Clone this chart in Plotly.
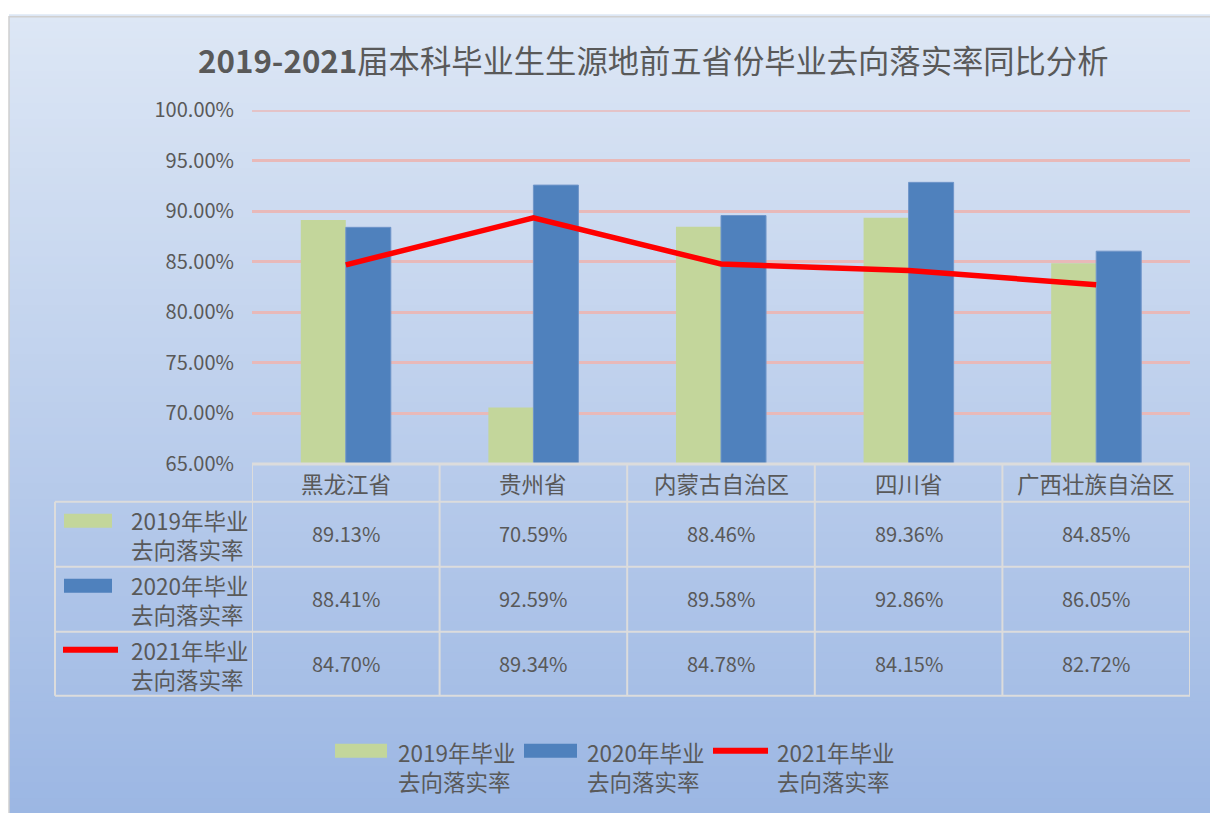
import plotly.graph_objects as go

# ---------------- data ----------------
categories = ["黑龙江省", "贵州省", "内蒙古自治区", "四川省", "广西壮族自治区"]
series_names = ["2019年毕业去向落实率", "2020年毕业去向落实率", "2021年毕业去向落实率"]
rate_2019 = [0.8913, 0.7059, 0.8846, 0.8936, 0.8485]
rate_2020 = [0.8841, 0.9259, 0.8958, 0.9286, 0.8605]
rate_2021 = [0.8470, 0.8934, 0.8478, 0.8415, 0.8272]
y_ticks = [0.65, 0.70, 0.75, 0.80, 0.85, 0.90, 0.95, 1.00]
title_text = "<b>2019-2021</b>届本科毕业生生源地前五省份毕业去向落实率同比分析"

# ---------------- style ----------------
W = 1210
FIG_H = 832
# the photographed page maps page-y to picture-y as  pic = OFF + SC * page
OFF, SC = 14.7, 0.966
FONT = "Noto Sans CJK SC"
TXT = "#595959"
GREEN, BLUE, RED = "#c3d69b", "#4f81bd", "#ff0000"
GRID = "#e8b9b9"
BORDER = "#dcdcdc"


def px(x):
    return x / W


def py(y):
    """picture-y (reference pixels) -> paper fraction"""
    return 1 - ((y - OFF) / SC) / FIG_H


def split_name(name):
    return name[:7], name[7:]


fig = go.Figure()
fig.add_trace(go.Bar(x=categories, y=rate_2019, name=series_names[0],
                     marker=dict(color=GREEN, line=dict(width=0)), showlegend=False))
fig.add_trace(go.Bar(x=categories, y=rate_2020, name=series_names[1],
                     marker=dict(color=BLUE, line=dict(color="#6f95c9", width=1)), showlegend=False))
fig.add_trace(go.Scatter(x=categories, y=rate_2021, name=series_names[2], mode="lines",
                         line=dict(color=RED, width=5.5), showlegend=False))

shapes = []
# gradient background
top_c = (221, 231, 245)
bot_c = (155, 182, 227)
y_start, y_end = 13, 822
n = 100
step = (y_end - y_start) / n
for i in range(n):
    t = (i + 0.5) / n
    c = tuple(round(top_c[k] + (bot_c[k] - top_c[k]) * t) for k in range(3))
    y0 = y_start + i * step
    shapes.append(dict(type="rect", xref="paper", yref="paper", layer="below",
                       x0=px(9), x1=1, y0=py(y0 + step + 0.8), y1=py(y0),
                       fillcolor="rgb(%d,%d,%d)" % c, line=dict(width=0)))
# chart border
shapes.append(dict(type="rect", xref="paper", yref="paper", layer="below",
                   x0=px(9), x1=px(1215), y0=py(830), y1=min(py(13), 1 - 0.8 / FIG_H),
                   line=dict(color="#d0d0d0", width=1.5), fillcolor="rgba(0,0,0,0)"))

ncat = len(categories)
# top gridline (plotly drops the grid line on the range edge)
shapes.append(dict(type="line", xref="x", yref="y", layer="below",
                   x0=-0.5, x1=ncat - 0.5, y0=y_ticks[-1], y1=y_ticks[-1],
                   line=dict(color=GRID, width=3)))

# data table lines
for i in range(ncat + 1):
    shapes.append(dict(type="line", xref="x", yref="paper",
                       x0=i - 0.5, x1=i - 0.5, y0=py(463), y1=py(695),
                       line=dict(color=BORDER, width=2)))
shapes.append(dict(type="line", xref="x", yref="paper",
                   x0=-0.5, x1=ncat - 0.5, y0=py(463), y1=py(463),
                   line=dict(color=BORDER, width=3)))
shapes.append(dict(type="line", xref="paper", yref="paper",
                   x0=px(55), x1=px(55), y0=py(501), y1=py(695),
                   line=dict(color=BORDER, width=2)))
for yy in [501, 566, 631, 695]:
    shapes.append(dict(type="line", xref="paper", yref="paper",
                       x0=px(55), x1=px(1190), y0=py(yy), y1=py(yy),
                       line=dict(color=BORDER, width=2)))

annotations = []


def add_text(text, x, y, size, xanchor="center", xref="paper"):
    annotations.append(dict(text=text, xref=xref, yref="paper", x=x, y=y,
                            xanchor=xanchor, yanchor="middle", showarrow=False,
                            font=dict(family=FONT, size=size, color=TXT)))


# title
add_text(title_text, px(653), py(58), 31.3)
# header row
for i, cat in enumerate(categories):
    add_text(cat, i, py(482), 22.5, xref="x")
# value rows + row labels
row_centers = [533, 598, 663]
for r, vals in enumerate([rate_2019, rate_2020, rate_2021]):
    for i, v in enumerate(vals):
        add_text(f"{v * 100:.2f}%", i, py(row_centers[r]), 20, xref="x")
    l1, l2 = split_name(series_names[r])
    add_text(l1, px(129), py(row_centers[r] - 14), 22.5, xanchor="left")
    add_text(l2, px(129), py(row_centers[r] + 15), 22.5, xanchor="left")

# table row keys
shapes.append(dict(type="rect", xref="paper", yref="paper", x0=px(64), x1=px(112),
                   y0=py(527), y1=py(513), fillcolor=GREEN, line=dict(width=0)))
shapes.append(dict(type="rect", xref="paper", yref="paper", x0=px(64), x1=px(112),
                   y0=py(592), y1=py(578), fillcolor=BLUE, line=dict(width=0)))
shapes.append(dict(type="line", xref="paper", yref="paper", x0=px(63), x1=px(118),
                   y0=py(649), y1=py(649), line=dict(color=RED, width=6)))

# bottom legend
shapes.append(dict(type="rect", xref="paper", yref="paper", x0=px(335), x1=px(387),
                   y0=py(757), y1=py(743), fillcolor=GREEN, line=dict(width=0)))
shapes.append(dict(type="rect", xref="paper", yref="paper", x0=px(524), x1=px(577),
                   y0=py(757), y1=py(743), fillcolor=BLUE, line=dict(width=0)))
shapes.append(dict(type="line", xref="paper", yref="paper", x0=px(713), x1=px(768),
                   y0=py(750), y1=py(750), line=dict(color=RED, width=6)))
for xx, nm in zip([396, 585, 775], series_names):
    l1, l2 = split_name(nm)
    add_text(l1, px(xx), py(751), 22.5, xanchor="left")
    add_text(l2, px(xx), py(780), 22.5, xanchor="left")

fig.update_layout(
    width=W, height=FIG_H, autosize=False,
    margin=dict(l=0, r=0, t=0, b=0, pad=0),
    paper_bgcolor="white",
    plot_bgcolor="rgba(0,0,0,0)",
    barmode="group", bargap=0.52, bargroupgap=0,
    font=dict(family=FONT, color=TXT),
    shapes=shapes,
    annotations=annotations,
    xaxis=dict(domain=[px(252), px(1190)], type="category", range=[-0.5, ncat - 0.5],
               showticklabels=False, showgrid=False, zeroline=False, showline=False, ticks=""),
    yaxis=dict(domain=[py(463), py(109)], range=[0.65, 1.0], tickvals=y_ticks, tickformat=".2%",
               showgrid=True, gridcolor=GRID, gridwidth=3, zeroline=False, showline=False,
               ticks="outside", ticklen=13, tickcolor="rgba(0,0,0,0)",
               tickfont=dict(family=FONT, size=20, color=TXT)),
)

fig.write_html(
    "out.html",
    config={"responsive": False, "displayModeBar": False},
    post_script=(
        "var g=document.getElementById('{plot_id}');"
        "g.style.position='absolute';g.style.top='0px';g.style.left='0px';"
        "document.documentElement.style.margin='0';document.body.style.margin='0';"
        "document.body.style.padding='0';document.body.style.overflow='hidden';"
        "document.documentElement.style.overflow='hidden';"
    ),
)
